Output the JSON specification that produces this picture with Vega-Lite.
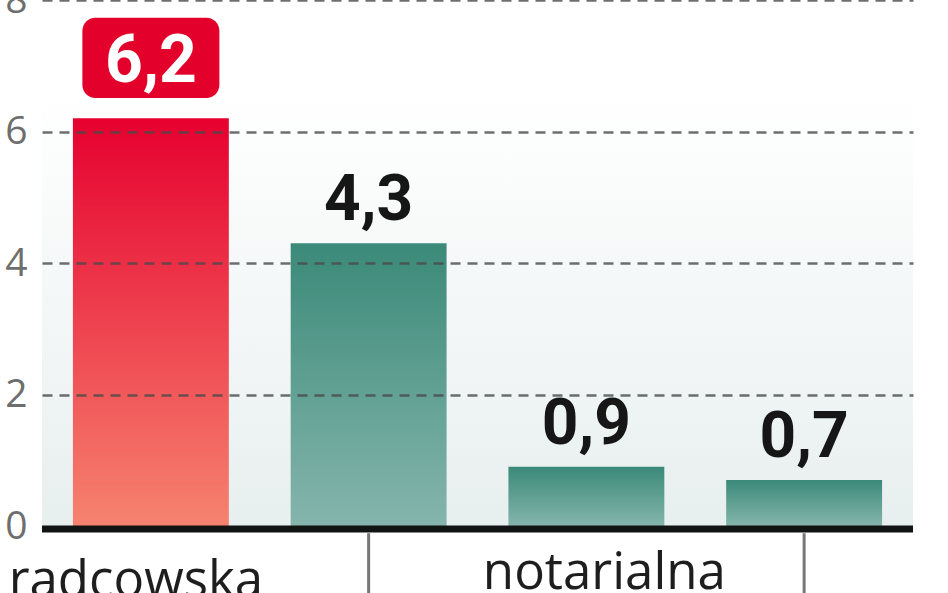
{
  "$schema": "https://vega.github.io/schema/vega-lite/v6.json",
  "width": 871,
  "height": 526,
  "autosize": {"type": "none"},
  "padding": {"left": 42, "top": 0, "right": 35, "bottom": 67},
  "background": "white",
  "config": {"view": {"stroke": null}},
  "data": {
    "values": [
      {"id": "1", "grupa": "radcowska", "wartosc": 6.2, "etykieta": "6,2"},
      {"id": "2", "grupa": "radcowska", "wartosc": 4.3, "etykieta": "4,3"},
      {"id": "3", "grupa": "notarialna", "wartosc": 0.9, "etykieta": "0,9"},
      {"id": "4", "grupa": "notarialna", "wartosc": 0.7, "etykieta": "0,7"}
    ]
  },
  "layer": [
    {
      "data": {"values": [{}]},
      "mark": {
        "type": "rect",
        "color": {
          "gradient": "linear", "x1": 0, "y1": 0, "x2": 0, "y2": 1,
          "stops": [
            {"offset": 0, "color": "#ffffff"},
            {"offset": 0.18, "color": "#ffffff"},
            {"offset": 1, "color": "#e8efef"}
          ]
        }
      },
      "encoding": {
        "x": {"value": 0},
        "x2": {"value": "width"},
        "y": {
          "datum": 8, "type": "quantitative",
          "scale": {"domain": [0, 8], "nice": false},
          "axis": {
            "title": null,
            "values": [0, 2, 4, 6, 8],
            "format": "d",
            "domain": false,
            "ticks": false,
            "labelFlush": false,
            "labelPadding": 15,
            "labelFont": "Open Sans",
            "labelFontSize": 39,
            "labelColor": "#6e6e6e",
            "labelBaseline": "middle",
            "grid": true,
            "gridColor": "#4a4a4a",
            "gridDash": [10, 7],
            "gridWidth": 2.5,
            "gridOpacity": {"condition": {"test": "datum.value === 0", "value": 0}, "value": 0.8},
            "zindex": 1
          }
        },
        "y2": {"datum": 0}
      }
    },
    {
      "transform": [{"filter": "datum.id == '1'"}],
      "mark": {
        "type": "bar",
        "color": {
          "gradient": "linear", "x1": 0, "y1": 0, "x2": 0, "y2": 1,
          "stops": [
            {"offset": 0, "color": "#e6002f"},
            {"offset": 1, "color": "#f6836f"}
          ]
        }
      },
      "encoding": {
        "x": {"field": "id", "type": "nominal", "scale": {"domain": ["1", "2", "3", "4"], "paddingInner": 0.284, "paddingOuter": 0.142}, "axis": null},
        "y": {"field": "wartosc", "type": "quantitative", "scale": {"domain": [0, 8], "nice": false}, "axis": {"title": null}}
      }
    },
    {
      "transform": [{"filter": "datum.id != '1'"}],
      "mark": {
        "type": "bar",
        "color": {
          "gradient": "linear", "x1": 0, "y1": 0, "x2": 0, "y2": 1,
          "stops": [
            {"offset": 0, "color": "#3b8a79"},
            {"offset": 1, "color": "#85b5ad"}
          ]
        }
      },
      "encoding": {
        "x": {"field": "id", "type": "nominal", "scale": {"domain": ["1", "2", "3", "4"], "paddingInner": 0.284, "paddingOuter": 0.142}, "axis": null},
        "y": {"field": "wartosc", "type": "quantitative", "scale": {"domain": [0, 8], "nice": false}, "axis": {"title": null}}
      }
    },
    {
      "data": {"values": [{}]},
      "mark": {"type": "rule", "color": "#121414", "strokeWidth": 7, "yOffset": 3},
      "encoding": {
        "x": {"value": 0},
        "x2": {"value": "width"},
        "y": {"datum": 0, "type": "quantitative", "scale": {"domain": [0, 8], "nice": false}, "axis": {"title": null}}
      }
    },
    {
      "transform": [{"filter": "datum.id == '2' || datum.id == '4'"}],
      "mark": {"type": "rule", "color": "#777777", "strokeWidth": 3},
      "encoding": {
        "x": {"field": "id", "type": "nominal", "scale": {"domain": ["1", "2", "3", "4"], "paddingInner": 0.284, "paddingOuter": 0.142}, "axis": null},
        "y": {"datum": -0.11, "type": "quantitative", "scale": {"domain": [0, 8], "nice": false}, "axis": {"title": null}},
        "y2": {"datum": -1.1}
      }
    },
    {
      "transform": [{"filter": "datum.id == '1'"}],
      "mark": {"type": "bar", "width": 137, "cornerRadius": 13, "color": "#e3002b"},
      "encoding": {
        "x": {"field": "id", "type": "nominal", "scale": {"domain": ["1", "2", "3", "4"], "paddingInner": 0.284, "paddingOuter": 0.142}, "axis": null},
        "y": {"datum": 6.51, "type": "quantitative", "scale": {"domain": [0, 8], "nice": false}, "axis": {"title": null}},
        "y2": {"datum": 7.73}
      }
    },
    {
      "transform": [{"filter": "datum.id == '1'"}],
      "mark": {"type": "text", "font": "Liberation Sans Narrow, Roboto, sans-serif", "fontWeight": "bold", "fontSize": 66, "color": "#ffffff", "baseline": "alphabetic", "align": "center", "dy": -36},
      "encoding": {
        "x": {"field": "id", "type": "nominal", "scale": {"domain": ["1", "2", "3", "4"], "paddingInner": 0.284, "paddingOuter": 0.142}, "axis": null},
        "y": {"field": "wartosc", "type": "quantitative", "scale": {"domain": [0, 8], "nice": false}, "axis": {"title": null}},
        "text": {"field": "etykieta"}
      }
    },
    {
      "transform": [{"filter": "datum.id != '1'"}],
      "mark": {"type": "text", "font": "Liberation Sans Narrow, Roboto, sans-serif", "fontWeight": "bold", "fontSize": 64, "color": "#161616", "baseline": "alphabetic", "align": "center", "dy": -23},
      "encoding": {
        "x": {"field": "id", "type": "nominal", "scale": {"domain": ["1", "2", "3", "4"], "paddingInner": 0.284, "paddingOuter": 0.142}, "axis": null},
        "y": {"field": "wartosc", "type": "quantitative", "scale": {"domain": [0, 8], "nice": false}, "axis": {"title": null}},
        "text": {"field": "etykieta"}
      }
    },
    {
      "transform": [{"filter": "datum.id == '1'"}],
      "mark": {"type": "text", "font": "Open Sans", "fontSize": 51, "color": "#1e1e1e", "baseline": "alphabetic", "align": "center", "dx": -15, "dy": 5},
      "encoding": {
        "x": {"field": "id", "type": "nominal", "scale": {"domain": ["1", "2", "3", "4"], "paddingInner": 0.284, "paddingOuter": 0.142}, "axis": null},
        "y": {"datum": -1, "type": "quantitative", "scale": {"domain": [0, 8], "nice": false}, "axis": {"title": null}},
        "text": {"field": "grupa"}
      }
    },
    {
      "transform": [{"filter": "datum.id == '3'"}],
      "mark": {"type": "text", "font": "Open Sans", "fontSize": 51, "color": "#1e1e1e", "baseline": "alphabetic", "align": "center", "dx": 18, "dy": -3},
      "encoding": {
        "x": {"field": "id", "type": "nominal", "scale": {"domain": ["1", "2", "3", "4"], "paddingInner": 0.284, "paddingOuter": 0.142}, "axis": null},
        "y": {"datum": -1, "type": "quantitative", "scale": {"domain": [0, 8], "nice": false}, "axis": {"title": null}},
        "text": {"field": "grupa"}
      }
    }
  ]
}
